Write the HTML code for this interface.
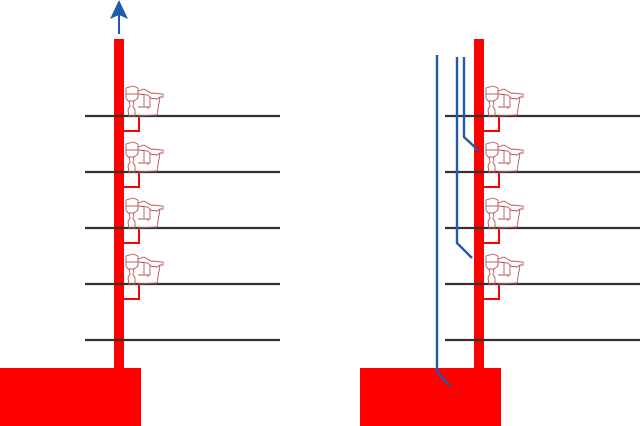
<!DOCTYPE html>
<html><head><meta charset="utf-8"><style>html,body{margin:0;padding:0;background:#fff}svg{display:block}</style></head>
<body>
<svg width="640" height="426" viewBox="0 0 640 426" xmlns="http://www.w3.org/2000/svg">
<defs>
<g id="wc" fill="none" stroke="#b55555" stroke-width="0.9">
  <path d="M2,3 L9,1 L14,3 L14,13 L10,16 L4,16 L2,13 Z"/>
  <path d="M2,9 L14,9"/>
  <path d="M5,16 L6,21 L4,25 L5,31 L11,31 L11,25 L9,21 L10,16"/>
  <path d="M14,6 L20,4 L27,8 L39,9 L39,12 L36,12 L33,30 L14,31"/>
  <path d="M14,9 L24,10 L26,12 L26,22 L14,22"/>
  <path d="M26,13 L33,14 L36,12"/>
  <path d="M20,10 L20,22 M24,22 L24,24"/>
</g>
</defs>
<!-- left -->
<line x1="119" y1="34" x2="119" y2="14" stroke="#1f5ba8" stroke-width="2"/>
<path d="M119,0 L128,19 L119,15 L110,19 Z" fill="#1f5ba8"/>
<rect x="114" y="39" width="10" height="330" fill="#ff0000"/>
<rect x="0" y="368" width="141" height="58" fill="#ff0000"/>
<g stroke="#333" stroke-width="2.3">
<line x1="85" y1="116" x2="280" y2="116"/><line x1="85" y1="172" x2="280" y2="172"/>
<line x1="85" y1="228" x2="280" y2="228"/><line x1="85" y1="284" x2="280" y2="284"/>
<line x1="85" y1="340" x2="280" y2="340"/>
</g>
<g fill="none" stroke="#ff0000" stroke-width="2">
<path d="M124,131 L139,131 L139,116"/><path d="M124,187 L139,187 L139,172"/>
<path d="M124,243 L139,243 L139,228"/><path d="M124,299 L139,299 L139,284"/>
</g>
<use href="#wc" x="124" y="85"/><use href="#wc" x="124" y="141"/>
<use href="#wc" x="124" y="197"/><use href="#wc" x="124" y="253"/>
<!-- right -->
<rect x="474" y="39" width="10" height="330" fill="#ff0000"/>
<rect x="360" y="368" width="141" height="58" fill="#ff0000"/>
<g stroke="#333" stroke-width="2.3">
<line x1="445" y1="116" x2="640" y2="116"/><line x1="445" y1="172" x2="640" y2="172"/>
<line x1="445" y1="228" x2="640" y2="228"/><line x1="445" y1="284" x2="640" y2="284"/>
<line x1="445" y1="340" x2="640" y2="340"/>
</g>
<g fill="none" stroke="#ff0000" stroke-width="2">
<path d="M484,131 L499,131 L499,116"/><path d="M484,187 L499,187 L499,172"/>
<path d="M484,243 L499,243 L499,228"/><path d="M484,299 L499,299 L499,284"/>
</g>
<use href="#wc" x="484" y="85"/><use href="#wc" x="484" y="141"/>
<use href="#wc" x="484" y="197"/><use href="#wc" x="484" y="253"/>
<g fill="none" stroke="#1f5ba8" stroke-width="2.4">
<path d="M437,55 L437,372 L450,386"/>
<path d="M457,57 L457,243 L472,258"/>
<path d="M464,57 L464,137 L479,151"/>
</g>
</svg>
</body></html>
